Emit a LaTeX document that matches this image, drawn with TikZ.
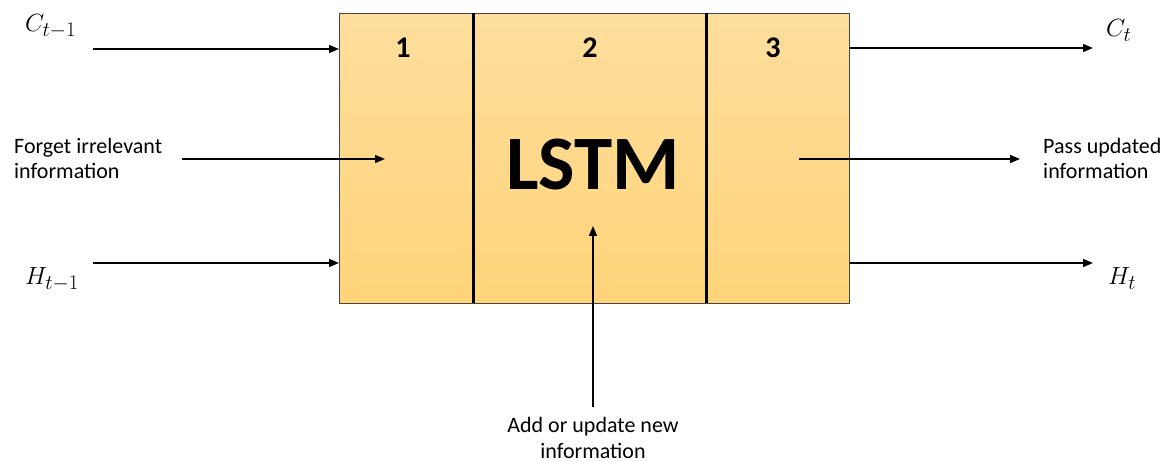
\documentclass[tikz,border=0pt]{standalone}
\usepackage{fontspec}
\setmainfont{Carlito}
\usetikzlibrary{arrows.meta}
% larger subscripts for the state labels
\DeclareMathSizes{25}{25}{20}{15}
\definecolor{celltop}{RGB}{254,222,157}
\definecolor{cellbot}{RGB}{255,212,122}
\definecolor{cellline}{RGB}{70,70,70}
\tikzset{
  flow/.style={line width=1.6pt,-{Triangle[length=10pt,width=8pt]}},
  caption/.style={font=\fontsize{22}{25.5}\selectfont,align=left,inner sep=0pt},
  statevar/.style={font=\fontsize{25}{30}\selectfont,inner sep=0pt,anchor=base west},
  stagenum/.style={font=\fontsize{30}{34}\selectfont\bfseries,inner sep=0pt,anchor=base},
  divider/.style={line width=3pt,black}
}
\begin{document}
\begin{tikzpicture}[x=1pt,y=-1pt]
\useasboundingbox (0,0) rectangle (1170,462);

% the LSTM block with its three stages
\node[draw=cellline,line width=1.2pt,top color=celltop,bottom color=cellbot,
      minimum width=510pt,minimum height=290pt,inner sep=0pt,anchor=north west]
      (cell) at (339,13) {};
\draw[divider] (473,13) -- (473,303);
\draw[divider] (706,13) -- (706,303);
\node[stagenum] (s1) at (403,58) {1};
\node[stagenum] (s2) at (590,58) {2};
\node[stagenum] (s3) at (773,58) {3};
\node[font=\fontsize{77}{86}\selectfont\bfseries,inner sep=0pt] (lstm) at (593,165) {LSTM};

% inputs
\node[statevar] (cprev) at (25,32) {$C_{t-1}$};
\node[statevar] (hprev) at (25,285) {$H_{t-1}$};
\coordinate (cin) at (93,49);
\coordinate (hin) at (93,263);
\draw[flow] (cin) -- (cin -| cell.west);
\draw[flow] (hin) -- (hin -| cell.west);

% (base anchor of a two-line caption sits on its last line)
\node[caption,anchor=base west] (forget) at (14,179) {Forget irrelevant\\information};
\coordinate (fstart) at (182,159);
\coordinate (fend) at (385,159);
\draw[flow] (fstart) -- (fend);

% outputs
\node[statevar] (cnext) at (1106,37) {$C_t$};
\node[statevar] (hnext) at (1108,285) {$H_t$};
\coordinate (cout) at (1093,48);
\coordinate (hout) at (1093,263);
\draw[flow] (cout -| cell.east) -- (cout);
\draw[flow] (hout -| cell.east) -- (hout);

\node[caption,anchor=base west] (pass) at (1043,179) {Pass updated\\information};
\coordinate (pstart) at (799,159);
\coordinate (pend) at (1020,159);
\draw[flow] (pstart) -- (pend);

% new information entering stage 2
\node[caption,align=center,anchor=base] (add) at (593,458) {Add or update new\\information};
\coordinate (astart) at (593,407);
\coordinate (aend) at (593,226);
\draw[flow] (astart) -- (aend);
\end{tikzpicture}
\end{document}
